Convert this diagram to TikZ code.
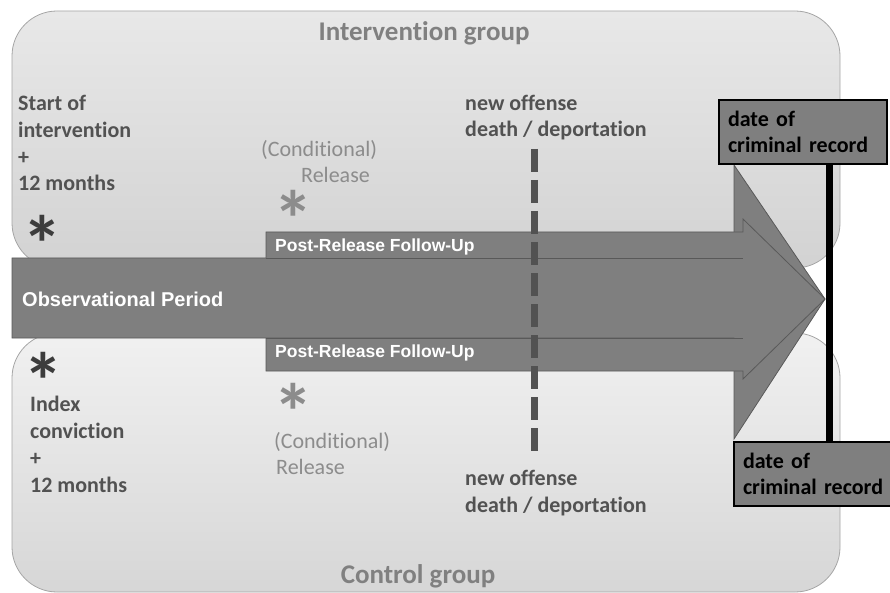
\documentclass[tikz,border=0pt]{standalone}
\usepackage{fontspec}
\setmainfont{Carlito}[Ligatures=CommonOff]
\newfontfamily\arialfont{Liberation Sans}
\usetikzlibrary{positioning}
\definecolor{arrowfill}{RGB}{127,127,127}
\definecolor{arrowedge}{RGB}{89,89,89}
\definecolor{darktext}{RGB}{82,82,82}
\definecolor{starink}{RGB}{60,60,60}
\definecolor{softtext}{RGB}{140,140,140}
\definecolor{grouptext}{RGB}{128,128,128}
\definecolor{groupedge}{RGB}{165,165,165}
\tikzset{
  groupbox/.style={draw=groupedge, line width=0.8pt, rounded corners=45pt},
  arrowbody/.style={fill=arrowfill, draw=arrowedge, line width=0.8pt, line join=miter},
  edgeonly/.style={draw=arrowedge, line width=0.8pt, line join=miter},
  grouplbl/.style={grouptext, font=\fontsize{27}{30}\selectfont\bfseries, inner sep=0pt},
  eventlbl/.style={darktext, font=\fontsize{22}{26.7}\selectfont\bfseries, align=left, inner sep=0pt, anchor=base west},
  softlbl/.style={softtext, font=\fontsize{22}{26.7}\selectfont, inner sep=0pt, anchor=base west},
  barlbl/.style={white, font=\arialfont\bfseries\fontsize{#1}{#1}\selectfont, inner sep=0pt, anchor=base west},
  starmark/.style={font=\fontsize{80}{80}\selectfont\bfseries, inner sep=0pt},
  datebox/.style={fill=arrowfill, draw=black, line width=2pt, inner sep=0pt, inner xsep=9pt,
    minimum height=64pt, text width=#1, align=left, anchor=north west,
    font=\fontsize{22}{26.7}\selectfont\bfseries},
  dashln/.style={darktext, line width=7pt, dash pattern=on 23pt off 8pt},
  recordln/.style={black, line width=7pt},
}

\begin{document}
\begin{tikzpicture}[x=1pt,y=-1pt]
  \useasboundingbox (0,0) rectangle (890,593);
  % the two groups
  \draw[groupbox, top color=gray!18, bottom color=gray!35] (12,11) rectangle (840,268);
  \draw[groupbox, top color=gray!11, bottom color=gray!32] (12,333) rectangle (840,592);
  \node[grouplbl] (intgrp) at (424,33) {Intervention group};
  \node[grouplbl] (ctlgrp) at (418,576) {Control group};

  % observational period
  \draw[arrowbody] (12,258) -- (734,258) -- (734,165) -- (825,299)
    -- (734,439) -- (734,338) -- (12,338) -- cycle;
  \coordinate (tip) at (825,299);
  % follow-up arrows
  \fill[arrowfill] (266,232) -- (743,232) -- (743,219) -- (tip) -- (743,258) -- (266,258) -- cycle;
  \draw[edgeonly] (266,258) -- (266,232) -- (743,232) -- (743,219) -- (tip);
  \draw[edgeonly] (266,258) -- (743,258);
  \fill[arrowfill] (266,338) -- (743,338) -- (tip) -- (743,379) -- (743,371) -- (266,371) -- cycle;
  \draw[edgeonly] (266,338) -- (266,371) -- (743,371) -- (743,379) -- (tip);
  \draw[edgeonly] (266,338) -- (743,338);
  \node[barlbl=20] (obs) at (22,306) {Observational Period};
  \node[barlbl=17.5] (fuint) at (275,252) {Post-Release Follow-Up};
  \node[barlbl=17.5] (fuctl) at (275,357) {Post-Release Follow-Up};

  % events
  \node[eventlbl] (startint) at (18,191) {Start of\\intervention\\+\\12 months};
  \node[eventlbl] (indexcv) at (30,492) {Index\\conviction\\+\\12 months};
  \node[starmark, starink] (starint) at (42,244) {*};
  \node[starmark, starink] (starctl) at (43,381) {*};
  \node[starmark, softtext] (starrelint) at (293,219) {*};
  \node[starmark, softtext] (starrelctl) at (293,412) {*};
  \node[softlbl] (condint) at (261,157) {(Conditional)};
  \node[softlbl] (relint) at (301,183) {Release};
  \node[softlbl] (condctl) at (274,448) {(Conditional)};
  \node[softlbl] (relctl) at (276,474) {Release};
  \node[eventlbl] (offint) at (465,137) {new offense\\death / deportation};
  \node[eventlbl] (offctl) at (465,512) {new offense\\death / deportation};
  \coordinate (dashtop) at (534,149);
  \coordinate (dashbot) at (534,452);
  \draw[dashln] (dashtop) -- (dashbot);

  % criminal record
  \node[datebox=150pt] (rectop) at (718,99) {date of\\criminal record};
  \node[datebox=150pt] (recbot) at (733,441) {date of\\criminal record};
  \coordinate (recx) at (829.5,299);
  \draw[recordln] (rectop.south -| recx) -- (recbot.north -| recx);
\end{tikzpicture}
\end{document}
